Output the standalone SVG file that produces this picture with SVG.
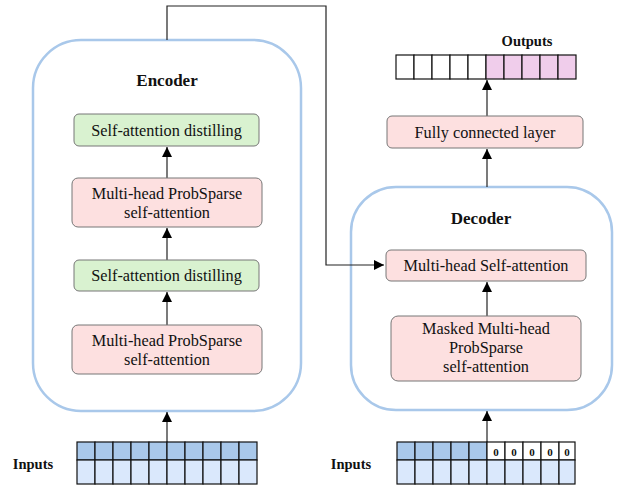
<svg xmlns="http://www.w3.org/2000/svg" width="633" height="486" viewBox="0 0 633 486">
<defs>
<style>
.cont{fill:#fff;stroke:#a9c8ea;stroke-width:2.5}
.g{fill:#d9f2d0;stroke:#777;stroke-width:1}
.p{fill:#fde0e0;stroke:#777;stroke-width:1}
.t{font-family:"Liberation Serif","Times New Roman",serif;font-size:16.3px;fill:#111;text-anchor:middle}
.b{font-family:"Liberation Serif","Times New Roman",serif;font-weight:bold;fill:#111;text-anchor:middle}
.c{stroke:#222;stroke-width:1.2;fill:none}
.cd{fill:#a9c8ea;stroke:#111;stroke-width:1.2}
.cl{fill:#dae8fc;stroke:#111;stroke-width:1.2}
.cw{fill:#fff;stroke:#111;stroke-width:1.2}
.cp{fill:#f0cdeb;stroke:#111;stroke-width:1.2}
</style>
<marker id="ah" viewBox="0 0 10 10" refX="10" refY="5" markerWidth="10" markerHeight="10" markerUnits="userSpaceOnUse" orient="auto">
<path d="M0,0 L10,5 L0,10 z" fill="#000"/>
</marker>
</defs>
<rect width="633" height="486" fill="#fff"/>

<g id="encoder">
<rect class="cont" x="33" y="40" width="268" height="371" rx="48"/>
<text class="b" x="167" y="86" font-size="17">Encoder</text>
</g>
<g id="decoder">
<rect class="cont" x="351" y="187" width="261" height="223" rx="45"/>
<text class="b" x="481" y="224" font-size="17">Decoder</text>
</g>

<g id="connectors">
<path class="c" d="M167,40 V6 H326 V265 H384" marker-end="url(#ah)"/>
<path class="c" d="M167,442 V412" marker-end="url(#ah)"/>
<path class="c" d="M167,325 V292" marker-end="url(#ah)"/>
<path class="c" d="M167,260 V228" marker-end="url(#ah)"/>
<path class="c" d="M167,178 V147" marker-end="url(#ah)"/>
<path class="c" d="M487,442 V411" marker-end="url(#ah)"/>
<path class="c" d="M487,316 V282" marker-end="url(#ah)"/>
<path class="c" d="M487,187 V149" marker-end="url(#ah)"/>
<path class="c" d="M487,116 V80" marker-end="url(#ah)"/>
</g>

<g id="enc-distill-top">
<rect class="g" x="74" y="114" width="185" height="32" rx="5"/>
<text class="t" x="166.5" y="135.5">Self-attention distilling</text>
</g>
<g id="enc-mhps-top">
<rect class="p" x="72" y="178" width="190" height="49" rx="6"/>
<text class="t" x="167" y="199">Multi-head ProbSparse</text>
<text class="t" x="167" y="218">self-attention</text>
</g>
<g id="enc-distill-bottom">
<rect class="g" x="74" y="260" width="185" height="31" rx="5"/>
<text class="t" x="166.5" y="281">Self-attention distilling</text>
</g>
<g id="enc-mhps-bottom">
<rect class="p" x="72" y="325" width="190" height="49" rx="6"/>
<text class="t" x="167" y="346">Multi-head ProbSparse</text>
<text class="t" x="167" y="365">self-attention</text>
</g>

<g id="dec-mhsa">
<rect class="p" x="386" y="250" width="200" height="31" rx="5"/>
<text class="t" x="486" y="271">Multi-head Self-attention</text>
</g>
<g id="dec-masked">
<rect class="p" x="391" y="316" width="190" height="65" rx="7"/>
<text class="t" x="486" y="334">Masked Multi-head</text>
<text class="t" x="486" y="353">ProbSparse</text>
<text class="t" x="486" y="372">self-attention</text>
</g>
<g id="fc">
<rect class="p" x="387" y="116" width="196" height="32" rx="5"/>
<text class="t" x="485" y="137.5">Fully connected layer</text>
</g>

<g id="outputs">
<text class="b" x="527" y="46" font-size="14.5">Outputs</text>
<rect class="cw" x="396" y="55" width="18" height="24"/>
<rect class="cw" x="414" y="55" width="18" height="24"/>
<rect class="cw" x="432" y="55" width="18" height="24"/>
<rect class="cw" x="450" y="55" width="18" height="24"/>
<rect class="cw" x="468" y="55" width="18" height="24"/>
<rect class="cp" x="486" y="55" width="18" height="24"/>
<rect class="cp" x="504" y="55" width="18" height="24"/>
<rect class="cp" x="522" y="55" width="18" height="24"/>
<rect class="cp" x="540" y="55" width="18" height="24"/>
<rect class="cp" x="558" y="55" width="18" height="24"/>
</g>

<g id="enc-inputs">
<text class="b" x="33" y="469" font-size="14.5">Inputs</text>
<rect class="cd" x="77" y="442" width="18" height="18"/>
<rect class="cd" x="95" y="442" width="18" height="18"/>
<rect class="cd" x="113" y="442" width="18" height="18"/>
<rect class="cd" x="131" y="442" width="18" height="18"/>
<rect class="cd" x="149" y="442" width="18" height="18"/>
<rect class="cd" x="167" y="442" width="18" height="18"/>
<rect class="cd" x="185" y="442" width="18" height="18"/>
<rect class="cd" x="203" y="442" width="18" height="18"/>
<rect class="cd" x="221" y="442" width="18" height="18"/>
<rect class="cd" x="239" y="442" width="18" height="18"/>
<rect class="cl" x="77" y="460" width="18" height="24"/>
<rect class="cl" x="95" y="460" width="18" height="24"/>
<rect class="cl" x="113" y="460" width="18" height="24"/>
<rect class="cl" x="131" y="460" width="18" height="24"/>
<rect class="cl" x="149" y="460" width="18" height="24"/>
<rect class="cl" x="167" y="460" width="18" height="24"/>
<rect class="cl" x="185" y="460" width="18" height="24"/>
<rect class="cl" x="203" y="460" width="18" height="24"/>
<rect class="cl" x="221" y="460" width="18" height="24"/>
<rect class="cl" x="239" y="460" width="18" height="24"/>
</g>

<g id="dec-inputs">
<text class="b" x="351" y="469" font-size="14.5">Inputs</text>
<rect class="cd" x="397" y="442" width="18" height="18"/>
<rect class="cd" x="415" y="442" width="18" height="18"/>
<rect class="cd" x="433" y="442" width="18" height="18"/>
<rect class="cd" x="451" y="442" width="18" height="18"/>
<rect class="cd" x="469" y="442" width="18" height="18"/>
<rect class="cw" x="487" y="442" width="18" height="18"/>
<rect class="cw" x="505" y="442" width="18" height="18"/>
<rect class="cw" x="523" y="442" width="18" height="18"/>
<rect class="cw" x="541" y="442" width="18" height="18"/>
<rect class="cw" x="559" y="442" width="16" height="18"/>
<text class="b" x="496" y="455.5" font-size="11">0</text>
<text class="b" x="514" y="455.5" font-size="11">0</text>
<text class="b" x="532" y="455.5" font-size="11">0</text>
<text class="b" x="550" y="455.5" font-size="11">0</text>
<text class="b" x="567" y="455.5" font-size="11">0</text>
<rect class="cl" x="397" y="460" width="18" height="24"/>
<rect class="cl" x="415" y="460" width="18" height="24"/>
<rect class="cl" x="433" y="460" width="18" height="24"/>
<rect class="cl" x="451" y="460" width="18" height="24"/>
<rect class="cl" x="469" y="460" width="18" height="24"/>
<rect class="cl" x="487" y="460" width="18" height="24"/>
<rect class="cl" x="505" y="460" width="18" height="24"/>
<rect class="cl" x="523" y="460" width="18" height="24"/>
<rect class="cl" x="541" y="460" width="18" height="24"/>
<rect class="cl" x="559" y="460" width="16" height="24"/>
</g>
</svg>
